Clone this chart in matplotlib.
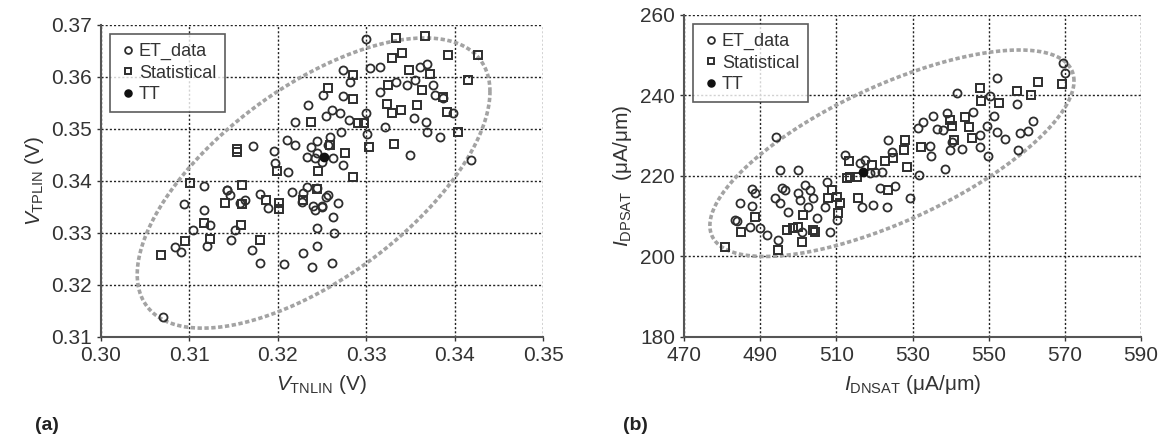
import numpy as np
import matplotlib
matplotlib.use("Agg")
import matplotlib.pyplot as plt

plt.rcParams['font.family'] = ['Liberation Sans', 'DejaVu Sans']
plt.rcParams['mathtext.fontset'] = 'custom'
plt.rcParams['mathtext.rm'] = 'Liberation Sans'
plt.rcParams['mathtext.it'] = 'Liberation Sans:italic'

######### Panel (a) data : VTNLIN vs VTPLIN #########

et_a_x = [0.3220, 0.3255, 0.3172, 0.3196, 0.3210, 0.3219, 0.3197, 0.3211, 0.3238, 0.3244,
          0.3250, 0.3233, 0.3117, 0.3142, 0.3146, 0.3094, 0.3117, 0.3163, 0.3180, 0.3189,
          0.3216, 0.3229, 0.3233, 0.3240, 0.3250, 0.3257, 0.3263, 0.3244, 0.3264, 0.3104,
          0.3152, 0.3084, 0.3090, 0.3120, 0.3147, 0.3171, 0.3180, 0.3207, 0.3229, 0.3244,
          0.3239, 0.3261, 0.3070, 0.3123, 0.3227, 0.3242, 0.3250, 0.3268, 0.3300, 0.3316,
          0.3304, 0.3361, 0.3369, 0.3274, 0.3282, 0.3334, 0.3346, 0.3355, 0.3316, 0.3376,
          0.3378, 0.3387, 0.3251, 0.3274, 0.3234, 0.3354, 0.3368, 0.3398, 0.3300, 0.3261,
          0.3270, 0.3280, 0.3321, 0.3301, 0.3369, 0.3383, 0.3272, 0.3259, 0.3244, 0.3257,
          0.3349, 0.3419, 0.3274, 0.3242, 0.3263, 0.3244, 0.3255, 0.3142, 0.3157]
et_a_y = [0.3514, 0.3524, 0.3467, 0.3458, 0.3478, 0.3469, 0.3434, 0.3418, 0.3466, 0.3453,
          0.3437, 0.3447, 0.3390, 0.3383, 0.3373, 0.3356, 0.3344, 0.3363, 0.3374, 0.3348,
          0.3379, 0.3376, 0.3389, 0.3351, 0.3351, 0.3373, 0.3331, 0.3309, 0.3299, 0.3306,
          0.3306, 0.3273, 0.3263, 0.3274, 0.3287, 0.3267, 0.3243, 0.3240, 0.3261, 0.3274,
          0.3234, 0.3242, 0.3139, 0.3315, 0.3360, 0.3344, 0.3350, 0.3358, 0.3673, 0.3620,
          0.3617, 0.3620, 0.3624, 0.3613, 0.3591, 0.3591, 0.3585, 0.3594, 0.3572, 0.3585,
          0.3565, 0.3559, 0.3565, 0.3564, 0.3546, 0.3522, 0.3514, 0.3530, 0.3530, 0.3537,
          0.3530, 0.3517, 0.3503, 0.3490, 0.3495, 0.3485, 0.3495, 0.3485, 0.3476, 0.3469,
          0.3450, 0.3440, 0.3431, 0.3444, 0.3444, 0.3386, 0.3370, 0.3383, 0.3358]

stat_a_x = [0.3238, 0.3154, 0.3154, 0.3199, 0.3259, 0.3246, 0.3101, 0.3159, 0.3140, 0.3159,
            0.3187, 0.3201, 0.3201, 0.3229, 0.3244, 0.3116, 0.3158, 0.3095, 0.3068, 0.3123,
            0.3180, 0.3334, 0.3366, 0.3340, 0.3329, 0.3393, 0.3348, 0.3372, 0.3285, 0.3415,
            0.3325, 0.3363, 0.3387, 0.3257, 0.3285, 0.3323, 0.3329, 0.3339, 0.3357, 0.3391,
            0.3291, 0.3297, 0.3404, 0.3303, 0.3331, 0.3276, 0.3285, 0.3426]
stat_a_y = [0.3514, 0.3456, 0.3462, 0.3419, 0.3469, 0.3419, 0.3396, 0.3392, 0.3357, 0.3355,
            0.3363, 0.3357, 0.3346, 0.3363, 0.3384, 0.3319, 0.3315, 0.3285, 0.3258, 0.3288,
            0.3287, 0.3674, 0.3678, 0.3646, 0.3637, 0.3642, 0.3613, 0.3605, 0.3604, 0.3594,
            0.3585, 0.3575, 0.3562, 0.3578, 0.3558, 0.3548, 0.3530, 0.3537, 0.3546, 0.3533,
            0.3511, 0.3511, 0.3495, 0.3466, 0.3471, 0.3453, 0.3408, 0.3642]

tt_a = (0.3252, 0.3447)

# ellipse: centre, half-ranges in x and y, cos of phase (correlation)
ell_a = dict(cx=0.32405, cy=0.3396, ax=0.01995, ay=0.0279, rho=0.63)

######### Panel (b) data : IDNSAT vs IDPSAT #########

et_b_x = [494.1, 495.2, 499.9, 484.7, 487.8, 488.6, 483.4, 487.3, 490.0, 491.7,
          494.8, 493.9, 495.2, 495.7, 496.5, 497.4, 500.0, 500.5, 501.8, 503.1,
          504.0, 502.6, 500.9, 504.8, 508.3, 507.5, 507.0, 510.1, 512.3, 516.2,
          517.5, 516.7, 519.6, 523.4, 521.5, 523.6, 524.5, 552.3, 541.6, 550.4,
          557.4, 569.6, 570.0, 545.8, 539.0, 535.5, 532.8, 531.5, 536.4, 538.1,
          549.5, 551.4, 552.1, 547.7, 554.3, 558.2, 560.4, 561.7, 547.7, 549.9,
          542.9, 540.3, 539.8, 534.6, 534.8, 538.5, 531.8, 529.3, 557.8, 525.4,
          518.8, 520.2, 521.9, 483.8, 487.8]
et_b_y = [229.8, 221.5, 221.5, 213.4, 212.6, 215.7, 209.1, 207.4, 207.0, 205.4,
          204.1, 214.5, 213.2, 217.0, 216.5, 211.1, 215.7, 214.0, 217.8, 216.5,
          214.5, 212.4, 206.2, 209.5, 206.2, 218.6, 212.4, 209.1, 225.2, 223.2,
          224.0, 212.4, 212.8, 212.4, 217.0, 229.0, 226.0, 244.3, 240.5, 239.9,
          237.9, 248.0, 245.5, 236.0, 235.7, 234.9, 233.5, 231.8, 231.6, 231.4,
          232.4, 234.9, 231.0, 230.2, 229.1, 230.6, 231.3, 233.7, 227.3, 225.0,
          226.6, 228.5, 226.5, 227.5, 225.0, 221.7, 220.3, 214.5, 226.5, 217.4,
          220.7, 221.1, 221.1, 208.7, 216.7]

stat_b_x = [488.6, 485.1, 480.8, 494.8, 497.0, 498.7, 501.3, 500.0, 500.9, 504.0,
            507.9, 510.1, 511.0, 510.5, 513.2, 512.7, 513.6, 515.4, 519.3, 515.8,
            523.6, 522.8, 524.8, 547.7, 547.9, 552.6, 557.4, 561.0, 563.0, 569.2,
            543.8, 539.8, 540.3, 544.7, 545.5, 540.9, 532.2, 528.0, 527.8, 528.5,
            508.8, 504.4]
stat_b_y = [209.9, 206.2, 202.4, 201.6, 206.6, 207.0, 210.3, 207.4, 203.7, 206.6,
            214.5, 214.9, 213.2, 210.7, 223.6, 219.4, 219.8, 219.8, 222.7, 214.5,
            216.5, 223.6, 224.4, 241.8, 238.7, 238.1, 241.2, 240.1, 243.4, 242.8,
            234.6, 233.9, 232.3, 232.1, 229.4, 228.9, 227.1, 229.0, 226.5, 222.2,
            216.5, 206.2]

tt_b = (517.1, 221.1)

ell_b = dict(cx=524.6, cy=225.65, ax=47.8, ay=25.65, rho=0.70)

######### Axis setup #########

xticks_a = [0.30, 0.31, 0.32, 0.33, 0.34, 0.35]
yticks_a = [0.31, 0.32, 0.33, 0.34, 0.35, 0.36, 0.37]
xticks_b = [470, 490, 510, 530, 550, 570, 590]
yticks_b = [180, 200, 220, 240, 260]

mk_col = '#2e2e2e'
txt_col = '#333333'


def draw_panel(ax, etx, ety, stx, sty, tt, ell, xt, yt, xfmt, yfmt, xlab, ylab):
    # confidence ellipse drawn as a dotted grey contour
    t = np.linspace(0, 2 * np.pi, 400)
    phi = np.arccos(ell['rho'])
    ex = ell['cx'] + ell['ax'] * np.cos(t)
    ey = ell['cy'] + ell['ay'] * np.cos(t - phi)
    ax.plot(ex, ey, color='#a3a3a3', lw=2.6, ls=(0, (1.2, 0.7)), zorder=2)

    ax.plot(etx, ety, 'o', ms=5.8, mfc='none', mec=mk_col, mew=1.3,
            label='ET_data', zorder=3)
    ax.plot(stx, sty, 's', ms=5.8, mfc='none', mec=mk_col, mew=1.4,
            label='Statistical', zorder=3)
    ax.plot([tt[0]], [tt[1]], 'o', ms=6, color='#111111', label='TT', zorder=4)

    ax.set_xlim(xt[0], xt[-1])
    ax.set_ylim(yt[0], yt[-1])
    ax.set_xticks(xt)
    ax.set_yticks(yt)
    ax.set_xticklabels([xfmt.format(v) for v in xt])
    ax.set_yticklabels([yfmt.format(v) for v in yt])
    ax.tick_params(labelsize=15, colors=txt_col, length=3, width=1)
    ax.grid(True, color='#222222', ls=(0, (1.5, 1.5)), lw=1.0)
    ax.set_axisbelow(True)
    for s in ['top', 'right']:
        ax.spines[s].set_visible(False)
    for s in ['left', 'bottom']:
        ax.spines[s].set_color('#555555')
        ax.spines[s].set_linewidth(1.5)
    ax.set_xlabel(xlab, fontsize=15, color=txt_col, labelpad=6)
    ax.set_ylabel(ylab, fontsize=15, color=txt_col, labelpad=4)

    leg = ax.legend(loc='upper left', fontsize=13, frameon=True, fancybox=False,
                    handletextpad=0.1, handlelength=1.0, borderpad=0.5,
                    labelspacing=0.25, markerscale=0.85, borderaxespad=0.5)
    leg.get_frame().set_edgecolor('#333333')
    leg.get_frame().set_linewidth(1.2)
    for txt in leg.get_texts():
        txt.set_color(txt_col)


fig = plt.figure(figsize=(11.66, 4.42), dpi=100)
ax_a = fig.add_axes([0.0866, 0.2376, 0.3791, 0.7059])
ax_b = fig.add_axes([0.5866, 0.2376, 0.3920, 0.7285])

draw_panel(ax_a, et_a_x, et_a_y, stat_a_x, stat_a_y, tt_a, ell_a,
           xticks_a, yticks_a, '{:.2f}', '{:.2f}',
           r'$V_{\mathrm{TNLIN}}$ (V)', r'$V_{\mathrm{TPLIN}}$ (V)')
draw_panel(ax_b, et_b_x, et_b_y, stat_b_x, stat_b_y, tt_b, ell_b,
           xticks_b, yticks_b, '{:d}', '{:d}',
           r'$I_{\mathrm{DNSAT}}$ (μA/μm)', r'$I_{\mathrm{DPSAT}}$  (μA/μm)')

fig.text(0.040, 0.038, '(a)', fontsize=14, fontweight='bold', color='#222222',
         ha='center', va='center')
fig.text(0.545, 0.038, '(b)', fontsize=14, fontweight='bold', color='#222222',
         ha='center', va='center')

fig.savefig('out.png', dpi=100)
